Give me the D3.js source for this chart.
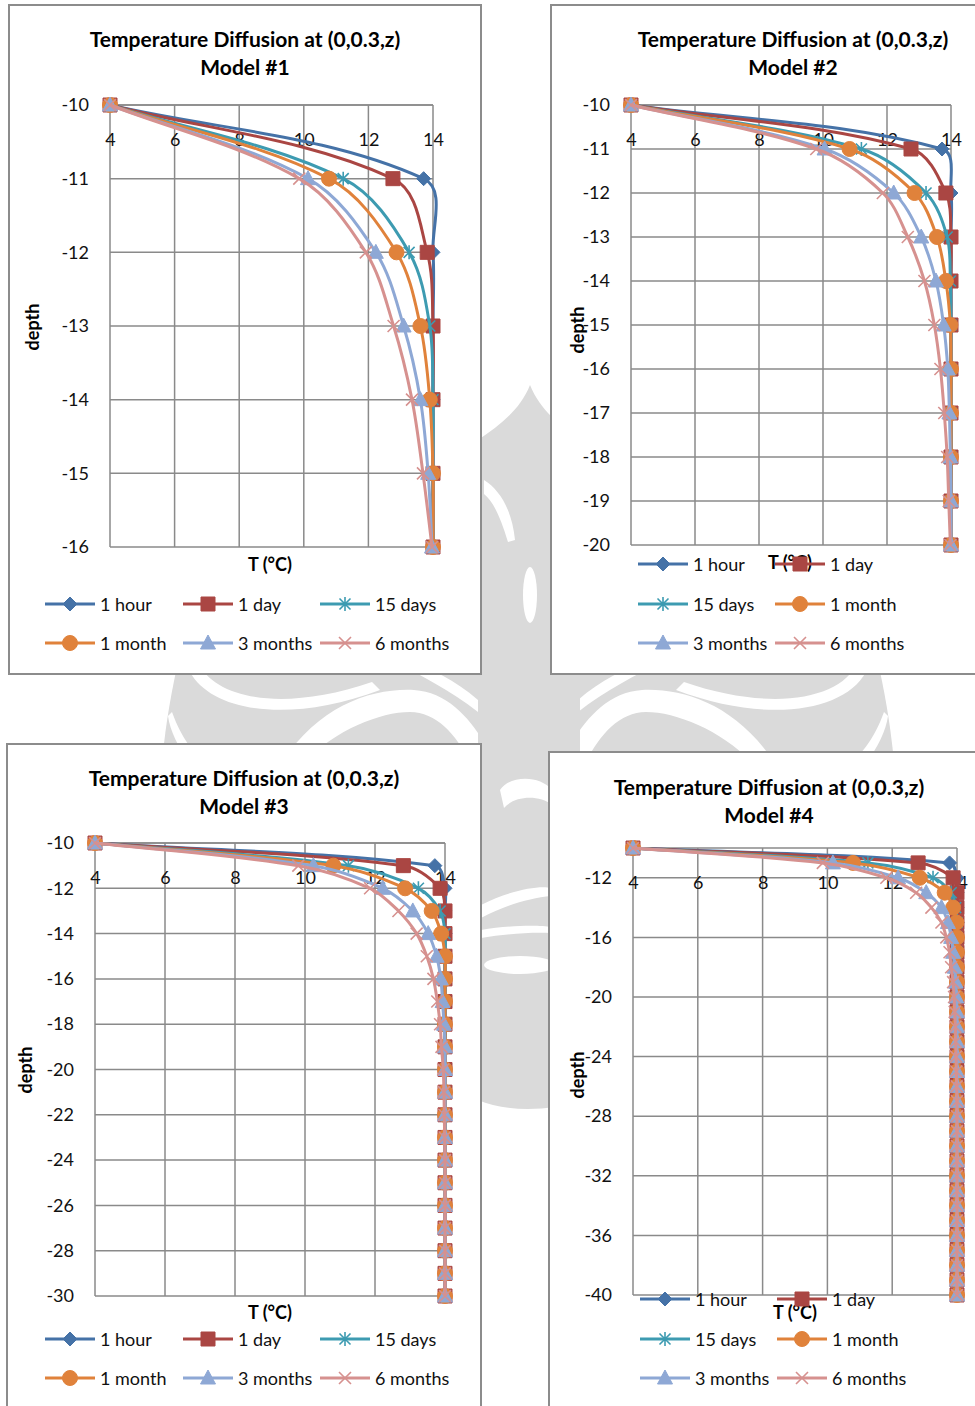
<!DOCTYPE html>
<html>
<head>
<meta charset="utf-8">
<script src="https://cdn.jsdelivr.net/npm/d3@7"></script>
<style>
  body { margin: 0; background: #fff; }
  svg { display: block; font-family: Lato, "Open Sans", sans-serif; }
</style>
</head>
<body>
<div id="page"></div>
<script>
// ---- data ----
var seriesNames = ['1 hour', '1 day', '15 days', '1 month', '3 months', '6 months']
var tempTicks = [4, 6, 8, 10, 12, 14]

// Model #1
var depth1 = [-10, -11, -12, -13, -14, -15, -16]
var model1 = [
  [4, 13.71, 14, 14, 14, 14, 14],
  [4, 12.76, 13.82, 14, 14, 14, 14],
  [4, 11.22, 13.26, 13.9, 14, 14, 14],
  [4, 10.78, 12.87, 13.61, 13.9, 14, 14],
  [4, 10.13, 12.23, 13.09, 13.61, 13.85, 13.97],
  [4, 9.86, 11.92, 12.78, 13.35, 13.69, 13.97]
]
var depthTicks1 = [-10, -11, -12, -13, -14, -15, -16]

// Model #2
var depth2 = [-10, -11, -12, -13, -14, -15, -16, -17, -18, -19, -20]
var model2 = [
  [4, 13.72, 14, 14, 14, 14, 14, 14, 14, 14, 14],
  [4, 12.75, 13.84, 14, 14, 14, 14, 14, 14, 14, 14],
  [4, 11.2, 13.22, 13.88, 13.98, 14, 14, 14, 14, 14, 14],
  [4, 10.83, 12.86, 13.56, 13.84, 13.98, 14, 14, 14, 14, 14],
  [4, 10.05, 12.21, 13.07, 13.53, 13.77, 13.9, 13.95, 13.98, 14, 14],
  [4, 9.79, 11.87, 12.65, 13.17, 13.48, 13.67, 13.79, 13.88, 13.93, 13.98]
]
var depthTicks2 = [-10, -11, -12, -13, -14, -15, -16, -17, -18, -19, -20]

// Model #3
var depth3 = [-10, -11, -12, -13, -14, -15, -16, -17, -18, -19, -20,
  -21, -22, -23, -24, -25, -26, -27, -28, -29, -30]
var model3 = [
  [4, 13.71, 14, 14, 14, 14, 14, 14, 14, 14, 14, 14, 14, 14, 14, 14, 14, 14, 14, 14, 14],
  [4, 12.81, 13.86, 14, 14, 14, 14, 14, 14, 14, 14, 14, 14, 14, 14, 14, 14, 14, 14, 14, 14],
  [4, 11.24, 13.24, 13.86, 14, 14, 14, 14, 14, 14, 14, 14, 14, 14, 14, 14, 14, 14, 14, 14, 14],
  [4, 10.81, 12.86, 13.62, 13.89, 14, 14, 14, 14, 14, 14, 14, 14, 14, 14, 14, 14, 14, 14, 14, 14],
  [4, 10.24, 12.22, 13.08, 13.52, 13.76, 13.88, 13.93, 13.97, 14, 14, 14, 14, 14, 14, 14, 14, 14, 14, 14, 14],
  [4, 9.81, 11.86, 12.67, 13.19, 13.48, 13.67, 13.78, 13.86, 13.9, 13.95, 13.97, 13.98, 13.99, 14, 14, 14, 14, 14, 14, 14]
]
var depthTicks3 = [-10, -12, -14, -16, -18, -20, -22, -24, -26, -28, -30]

// Model #4
var depth4 = [-10, -11, -12, -13, -14, -15, -16, -17, -18, -19, -20,
  -21, -22, -23, -24, -25, -26, -27, -28, -29, -30,
  -31, -32, -33, -34, -35, -36, -37, -38, -39, -40]
var model4 = [
  [4, 13.77, 14, 14, 14, 14, 14, 14, 14, 14, 14, 14, 14, 14, 14, 14, 14, 14, 14, 14, 14, 14, 14, 14, 14, 14, 14, 14, 14, 14, 14],
  [4, 12.8, 13.88, 14, 14, 14, 14, 14, 14, 14, 14, 14, 14, 14, 14, 14, 14, 14, 14, 14, 14, 14, 14, 14, 14, 14, 14, 14, 14, 14, 14],
  [4, 11.25, 13.26, 13.82, 13.96, 14, 14, 14, 14, 14, 14, 14, 14, 14, 14, 14, 14, 14, 14, 14, 14, 14, 14, 14, 14, 14, 14, 14, 14, 14, 14],
  [4, 10.79, 12.85, 13.62, 13.88, 13.98, 14, 14, 14, 14, 14, 14, 14, 14, 14, 14, 14, 14, 14, 14, 14, 14, 14, 14, 14, 14, 14, 14, 14, 14, 14],
  [4, 10.17, 12.18, 13.05, 13.52, 13.72, 13.82, 13.88, 13.93, 13.96, 13.98, 14, 14, 14, 14, 14, 14, 14, 14, 14, 14, 14, 14, 14, 14, 14, 14, 14, 14, 14, 14],
  [4, 9.86, 11.82, 12.74, 13.21, 13.52, 13.67, 13.77, 13.82, 13.88, 13.91, 13.93, 13.95, 13.96, 13.97, 13.98, 13.99, 14, 14, 14, 14, 14, 14, 14, 14, 14, 14, 14, 14, 14, 14]
]
var depthTicks4 = [-12, -16, -20, -24, -28, -32, -36, -40]

// ---- styling ----
var colors = ['#4572a7', '#aa4643', '#3d9bb1', '#e0823b', '#8ea8d5', '#d6918f']
var markers = ['diamond', 'square', 'star', 'circle', 'triangle', 'x']
var gridColor = '#8a8a8a'

var svg = d3.select('#page').append('svg')
  .attr('width', 975)
  .attr('height', 1406)

// Faint background watermark (the page ornament behind the charts)
var wm = svg.append('g').attr('fill', '#dadada')
function ornamentHalf(g) {
  g.append('path').attr('d', 'M178,662 L528,662 L528,762 L162,762 C166,720 172,690 178,662 Z')
  g.append('path').attr('fill', '#fff').attr('d', 'M198,662 C215,700 285,712 372,682 L380,690 C290,724 212,712 190,672 Z')
  g.append('path').attr('fill', '#fff').attr('d', 'M172,712 C182,740 196,756 206,762 L190,762 C178,748 170,730 168,716 Z')
  g.append('path').attr('fill', '#fff').attr('d', 'M282,762 C320,705 372,688 414,690 C446,692 468,716 484,742 L484,762 L470,762 C456,734 436,712 410,712 C380,712 336,730 304,762 Z')
  g.append('path').attr('fill', '#fff').attr('d', 'M395,662 C420,675 450,690 478,712 L478,700 C455,680 430,668 410,662 Z')
}
ornamentHalf(wm.append('g'))
ornamentHalf(wm.append('g').attr('transform', 'translate(1056,0) scale(-1,1)'))
// central stem
wm.append('path').attr('d', 'M478,440 C500,425 520,410 530,385 C540,410 560,425 580,440 L580,1100 C550,1112 505,1112 478,1100 Z')
wm.append('ellipse').attr('fill', '#fff').attr('cx', 530).attr('cy', 595).attr('rx', 7).attr('ry', 28)
wm.append('path').attr('fill', '#fff').attr('d', 'M484,480 C500,490 512,510 515,540 L508,542 C500,515 492,500 484,494 Z')
wm.append('path').attr('fill', '#fff').attr('d', 'M500,790 C510,775 540,775 552,790 L552,805 C540,795 515,795 504,808 Z')
wm.append('path').attr('fill', '#fff').attr('d', 'M481,905 C510,890 540,885 551,888 L551,896 C530,898 505,905 481,918 Z')
wm.append('path').attr('fill', '#fff').attr('d', 'M481,930 C510,925 540,925 551,927 L551,933 C530,932 505,934 481,938 Z')
wm.append('ellipse').attr('fill', '#fff').attr('cx', 520).attr('cy', 965).attr('rx', 36).attr('ry', 9)

// Excel-like smoothing: bezier through every point, handles scaled by segment length
function excelSmooth(context) {
  var pts
  return {
    areaStart: function() {},
    areaEnd: function() {},
    lineStart: function() { pts = [] },
    point: function(x, y) { pts.push([+x, +y]) },
    lineEnd: function() {
      var n = pts.length
      if (!n) return
      context.moveTo(pts[0][0], pts[0][1])
      function unit(a, b) {
        var dx = b[0] - a[0], dy = b[1] - a[1], l = Math.hypot(dx, dy) || 1
        return [dx / l, dy / l]
      }
      for (var i = 0; i < n - 1; i++) {
        var p0 = pts[Math.max(0, i - 1)], p1 = pts[i], p2 = pts[i + 1], p3 = pts[Math.min(n - 1, i + 2)]
        var d = Math.hypot(p2[0] - p1[0], p2[1] - p1[1]) / 3
        var t1 = unit(p0, p2), t2 = unit(p1, p3)
        context.bezierCurveTo(
          p1[0] + t1[0] * d, p1[1] + t1[1] * d,
          p2[0] - t2[0] * d, p2[1] - t2[1] * d,
          p2[0], p2[1])
      }
    }
  }
}

function markerPath(type) {
  var p = d3.path()
  if (type === 'diamond') {
    p.moveTo(0, -7); p.lineTo(7, 0); p.lineTo(0, 7); p.lineTo(-7, 0); p.closePath()
  } else if (type === 'square') {
    p.rect(-7, -7, 14, 14)
  } else if (type === 'circle') {
    p.arc(0, 0, 7.5, 0, 2 * Math.PI)
  } else if (type === 'triangle') {
    p.moveTo(0, -8); p.lineTo(7.5, 6); p.lineTo(-7.5, 6); p.closePath()
  } else if (type === 'x') {
    p.moveTo(-6, -6); p.lineTo(6, 6); p.moveTo(6, -6); p.lineTo(-6, 6)
  } else {
    p.moveTo(-5.5, -5.5); p.lineTo(5.5, 5.5); p.moveTo(5.5, -5.5); p.lineTo(-5.5, 5.5)
    p.moveTo(0, -7); p.lineTo(0, 7)
  }
  return p.toString()
}

function drawMarker(g, i) {
  var stroked = markers[i] === 'x' || markers[i] === 'star'
  return g.append('path')
    .attr('d', markerPath(markers[i]))
    .attr('fill', stroked ? 'none' : colors[i])
    .attr('stroke', colors[i])
    .attr('stroke-width', stroked ? 1.6 : 1)
}

var charts = [
  { model: 'Model #1', depth: depth1, data: model1, yTicks: depthTicks1, yMin: -16,
    box: [9, 5, 472, 669], plot: [110, 433, 105, 547], titleX: 245, titleY: 38,
    depthX: 32, depthY: 327, tX: 270, tY: 564,
    legendCols: [45, 183, 320], legendRows: [604, 643] },
  { model: 'Model #2', depth: depth2, data: model2, yTicks: depthTicks2, yMin: -20,
    box: [551, 5, 440, 669], plot: [631, 951, 105, 545], titleX: 793, titleY: 38,
    depthX: 577, depthY: 330, tX: 790, tY: 562,
    legendCols: [638, 775], legendRows: [564, 604, 643] },
  { model: 'Model #3', depth: depth3, data: model3, yTicks: depthTicks3, yMin: -30,
    box: [7, 744, 474, 680], plot: [95, 445, 843, 1296], titleX: 244, titleY: 777,
    depthX: 25, depthY: 1070, tX: 270, tY: 1312,
    legendCols: [45, 183, 320], legendRows: [1339, 1378] },
  { model: 'Model #4', depth: depth4, data: model4, yTicks: depthTicks4, yMin: -40,
    box: [549, 752, 440, 680], plot: [633, 957, 848, 1295], titleX: 769, titleY: 786,
    depthX: 577, depthY: 1075, tX: 795, tY: 1312,
    legendCols: [640, 777], legendRows: [1299, 1339, 1378] }
]

charts.forEach(function(c) {
  var g = svg.append('g')

  g.append('rect')
    .attr('x', c.box[0]).attr('y', c.box[1])
    .attr('width', c.box[2]).attr('height', c.box[3])
    .attr('fill', '#fff')
    .attr('stroke', '#8c8c8c')
    .attr('stroke-width', 2)

  var x = d3.scaleLinear().domain([4, 14]).range([c.plot[0], c.plot[1]])
  var y = d3.scaleLinear().domain([-10, c.yMin]).range([c.plot[2], c.plot[3]])

  // title
  g.append('text')
    .attr('x', c.titleX).attr('y', c.titleY)
    .attr('text-anchor', 'middle').attr('dominant-baseline', 'central')
    .attr('font-size', 21).attr('font-weight', 'bold')
    .text('Temperature Diffusion at (0,0.3,z)')
  g.append('text')
    .attr('x', c.titleX).attr('y', c.titleY + 28)
    .attr('text-anchor', 'middle').attr('dominant-baseline', 'central')
    .attr('font-size', 21).attr('font-weight', 'bold')
    .text(c.model)

  // gridlines
  var grid = g.append('g').attr('stroke', gridColor).attr('stroke-width', 1.5)
  grid.selectAll('.v').data(tempTicks).enter().append('line')
    .attr('x1', d => x(d)).attr('x2', d => x(d))
    .attr('y1', y(-10)).attr('y2', y(c.yMin))
  grid.selectAll('.h').data(c.yTicks.concat([-10])).enter().append('line')
    .attr('x1', x(4)).attr('x2', x(14))
    .attr('y1', d => y(d)).attr('y2', d => y(d))

  // axes (labels only)
  var yAxis = g.append('g')
    .attr('transform', 'translate(' + x(4) + ',0)')
    .call(d3.axisLeft(y).tickValues(c.yTicks).tickFormat(d => String(d)).tickSize(0).tickPadding(21))
  var xAxis = g.append('g')
    .attr('transform', 'translate(0,' + y(-10) + ')')
    .call(d3.axisBottom(x).tickValues(tempTicks).tickFormat(d => String(d)).tickSize(0))
  xAxis.selectAll('text').attr('y', 35).attr('dy', '0.35em')
  ;[xAxis, yAxis].forEach(function(a) {
    a.select('.domain').remove()
    a.selectAll('text').attr('font-size', 18).attr('fill', '#111')
      .attr('font-family', 'Lato, "Open Sans", sans-serif')
  })

  // axis titles
  g.append('text')
    .attr('transform', 'translate(' + c.depthX + ',' + c.depthY + ') rotate(-90)')
    .attr('text-anchor', 'middle').attr('dominant-baseline', 'central')
    .attr('font-size', 18).attr('font-weight', 'bold')
    .text('depth')
  g.append('text')
    .attr('x', c.tX).attr('y', c.tY)
    .attr('text-anchor', 'middle').attr('dominant-baseline', 'central')
    .attr('font-size', 18).attr('font-weight', 'bold')
    .text('T (°C)')

  // series
  var line = d3.line()
    .x(d => x(d.t))
    .y(d => y(d.z))
    .curve(excelSmooth)

  c.data.forEach(function(vals, i) {
    var pts = vals.map((t, k) => ({ t: t, z: c.depth[k] }))
    var sg = g.append('g')
    sg.append('path')
      .attr('d', line(pts))
      .attr('fill', 'none')
      .attr('stroke', colors[i])
      .attr('stroke-width', 3)
      .attr('stroke-linejoin', 'round')
    pts.forEach(function(p) {
      drawMarker(sg, i).attr('transform', 'translate(' + x(p.t) + ',' + y(p.z) + ')')
    })
  })

  // legend
  var nCols = c.legendCols.length
  seriesNames.forEach(function(name, i) {
    var lx = c.legendCols[i % nCols]
    var ly = c.legendRows[Math.floor(i / nCols)]
    var lg = g.append('g').attr('transform', 'translate(' + lx + ',' + ly + ')')
    lg.append('line')
      .attr('x1', 0).attr('x2', 50).attr('y1', 0).attr('y2', 0)
      .attr('stroke', colors[i]).attr('stroke-width', 3)
    drawMarker(lg, i).attr('transform', 'translate(25,0)')
    lg.append('text')
      .attr('x', 55).attr('y', 0)
      .attr('dominant-baseline', 'central')
      .attr('font-size', 18).attr('fill', '#111')
      .text(name)
  })
})
</script>
</body>
</html>
